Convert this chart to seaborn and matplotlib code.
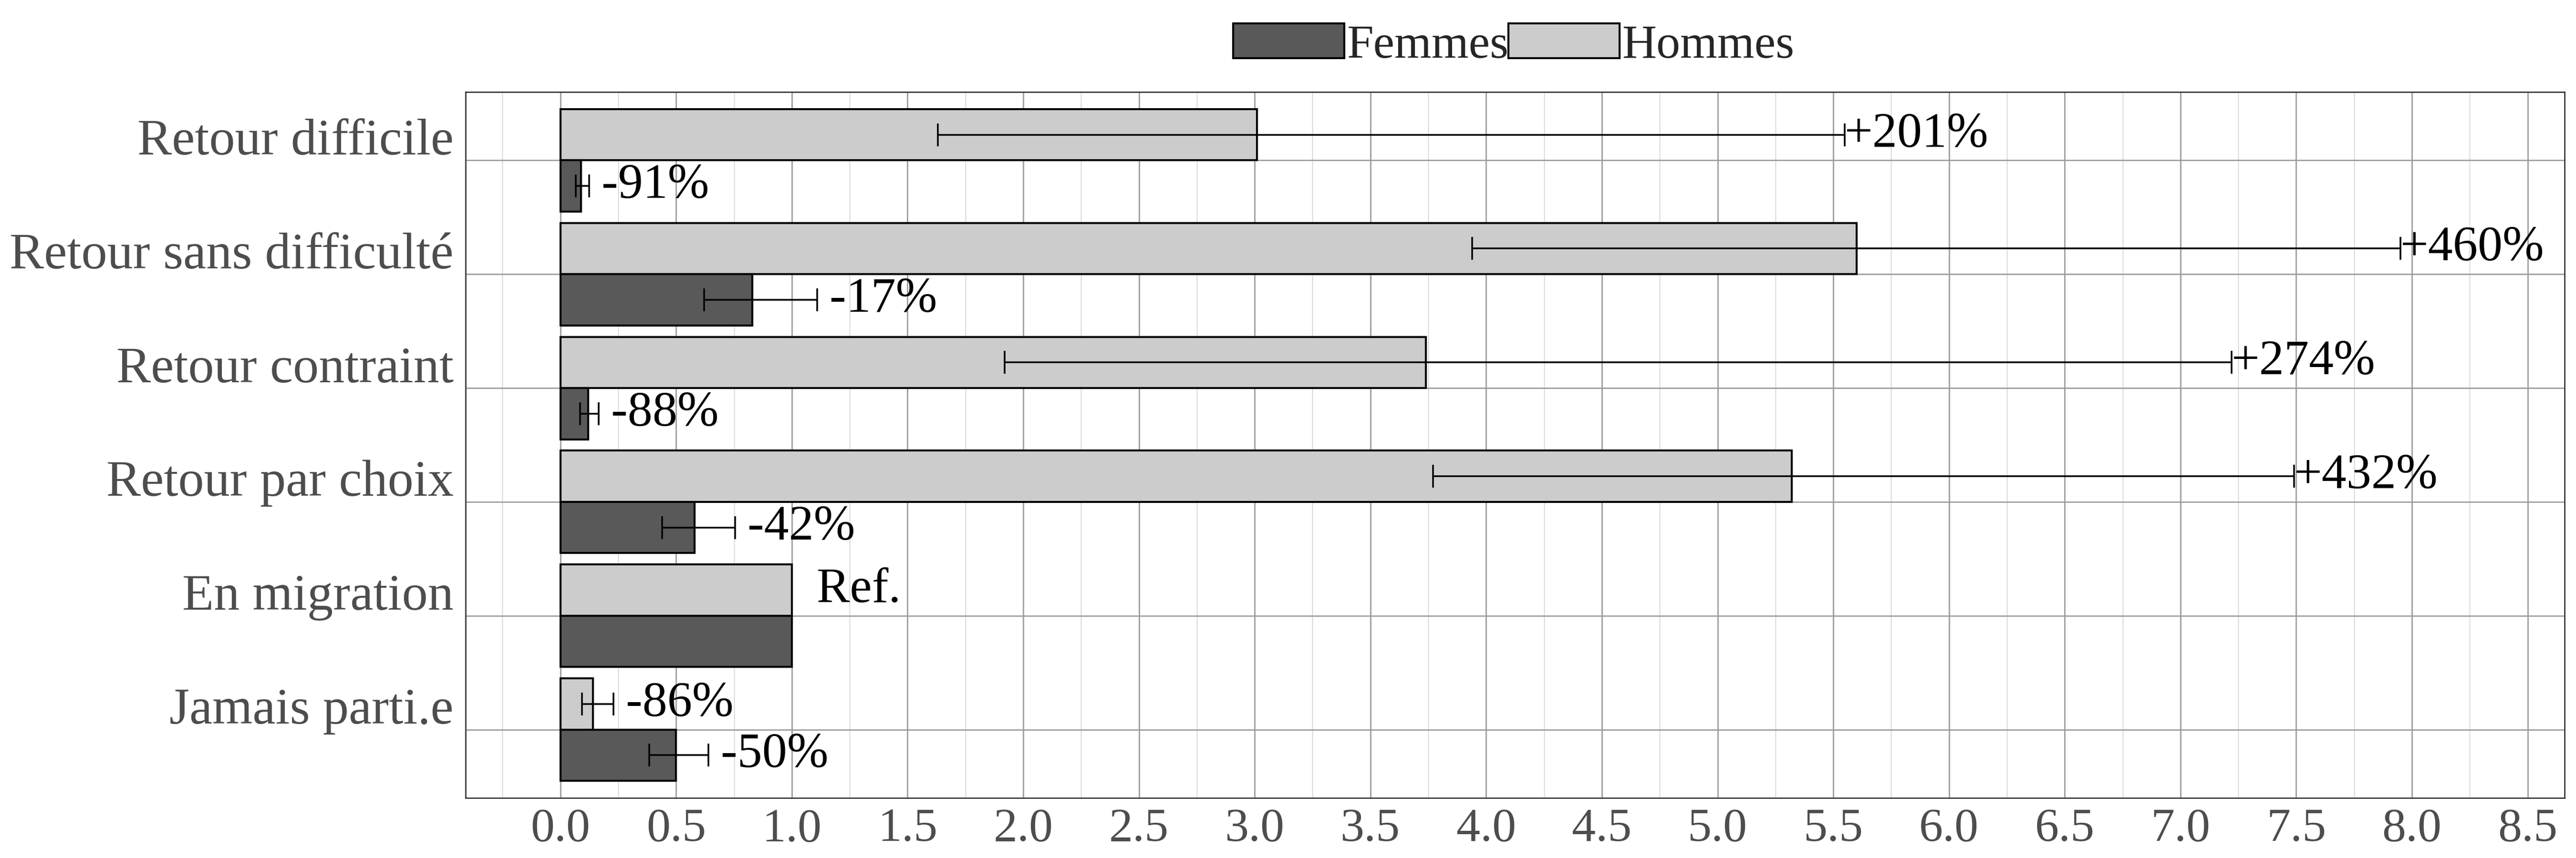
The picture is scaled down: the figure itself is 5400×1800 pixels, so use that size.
import numpy as np
import pandas as pd
import seaborn as sns
import matplotlib.pyplot as plt
import matplotlib.transforms as mtransforms
from matplotlib.patches import Patch
from matplotlib.ticker import MultipleLocator

# Données (odds ratios)
categories = ["Retour difficile", "Retour sans difficulté", "Retour contraint",
              "Retour par choix", "En migration", "Jamais parti.e"]

hommes_val = [3.01, 5.60, 3.74, 5.32, 1.00, 0.14]
hommes_low = [1.63, 3.94, 1.92, 3.77, np.nan, 0.094]
hommes_up = [5.55, 7.95, 7.22, 7.49, np.nan, 0.23]
hommes_lab = ["+201%", "+460%", "+274%", "+432%", "  Ref.", " -86%"]

femmes_val = [0.09, 0.83, 0.12, 0.58, 1.00, 0.50]
femmes_low = [0.066, 0.62, 0.085, 0.44, np.nan, 0.385]
femmes_up = [0.124, 1.11, 0.165, 0.755, np.nan, 0.64]
femmes_lab = [" -91%", " -17%", " -88%", " -42%", "", " -50%"]

couleurs = {"Femmes": "#595959", "Hommes": "#CCCCCC"}

df = pd.DataFrame({
    "categorie": categories * 2,
    "sexe": ["Hommes"] * 6 + ["Femmes"] * 6,
    "valeur": hommes_val + femmes_val,
})

sns.set_style("white")
plt.rcParams["font.family"] = ["Liberation Serif", "DejaVu Serif"]

fig = plt.figure(figsize=(18, 6), dpi=300)
ax = fig.add_axes([0.1807, 0.07, 0.9956 - 0.1807, 0.8928 - 0.07])

sns.barplot(data=df, y="categorie", x="valeur", hue="sexe",
            order=categories, hue_order=["Hommes", "Femmes"],
            palette=couleurs, saturation=1, width=0.9,
            edgecolor="black", linewidth=1.0, errorbar=None,
            legend=False, ax=ax, zorder=3)

series = [
    (hommes_val, hommes_low, hommes_up, hommes_lab),
    (femmes_val, femmes_low, femmes_up, femmes_lab),
]
for cont, (vals, low, up, labs) in zip(ax.containers, series):
    for bar, v, lo, hi, lab in zip(cont, vals, low, up, labs):
        yc = bar.get_y() + bar.get_height() / 2
        if not np.isnan(lo):
            ax.errorbar(v, yc, xerr=[[v - lo], [hi - v]], fmt="none",
                        ecolor="black", elinewidth=0.85, capsize=5.75,
                        capthick=0.85, zorder=4)
            xt = hi
        else:
            xt = v
        if lab:
            ax.text(xt, yc, lab, ha="left", va="center", fontsize=25,
                    color="black", zorder=5)

ax.set_xlim(-0.41, 8.66)
ax.set_ylim(5.6, -0.6)
ax.xaxis.set_major_locator(MultipleLocator(0.5))
ax.xaxis.set_minor_locator(MultipleLocator(0.25))
ax.xaxis.set_major_formatter(lambda x, pos: f"{x:.1f}")

ax.grid(True, which="major", axis="both", color="#9A9A9A", linewidth=0.65, zorder=0)
ax.grid(True, which="minor", axis="x", color="#CCCCCC", linewidth=0.35, zorder=0)
ax.set_axisbelow(True)

for s in ax.spines.values():
    s.set_visible(True)
    s.set_color("#333333")
    s.set_linewidth(0.65)

ax.tick_params(axis="both", which="major", direction="out", length=3,
               width=0.65, color="#333333", labelcolor="#4D4D4D")
ax.tick_params(axis="x", which="major", labelsize=24, pad=2)
ax.tick_params(axis="y", which="major", labelsize=26, pad=3)
ax.tick_params(axis="both", which="minor", length=0)
ax.set_xlabel("")
ax.set_ylabel("")

# libellés des catégories posés juste au-dessus du trait de graduation
decal = mtransforms.ScaledTranslation(0, 3 / 72, fig.dpi_scale_trans)
for lbl in ax.get_yticklabels():
    lbl.set_verticalalignment("baseline")
    lbl.set_transform(lbl.get_transform() + decal)

handles = [Patch(facecolor=couleurs["Femmes"], edgecolor="black", linewidth=1.0, label="Femmes"),
           Patch(facecolor=couleurs["Hommes"], edgecolor="black", linewidth=1.0, label="Hommes")]
fig.legend(handles=handles, loc="center", bbox_to_anchor=(0.5876, 0.947), ncol=2,
           frameon=False, fontsize=24, handlelength=2.33, handleheight=0.74,
           handletextpad=0.05, columnspacing=0.0, borderaxespad=0)

fig.savefig("out.png", dpi=300)
